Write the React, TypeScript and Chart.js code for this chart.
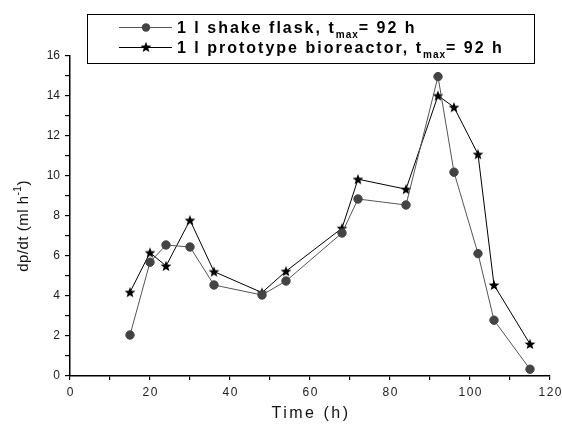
import React, { useEffect, useRef } from 'react';
import { Chart, registerables } from 'chart.js';
Chart.register(...registerables);

const times = [15, 20, 24, 30, 36, 48, 54, 68, 72, 84, 92, 96, 102, 106, 115];
const shakeFlask = [2.05, 5.69, 6.55, 6.45, 4.55, 4.05, 4.75, 7.15, 8.85, 8.55, 14.97, 10.19, 6.12, 2.79, 0.34];
const bioreactor = [4.19, 6.17, 5.5, 7.79, 5.22, 4.17, 5.24, 7.39, 9.84, 9.34, 14.02, 13.44, 11.09, 4.55, 1.6];
const xLabels = [0, 20, 40, 60, 80, 100, 120];
const seriesNames = ['1 l shake flask, t', '1 l prototype bioreactor, t'];
const seriesSuffix = '= 92 h';
const xTitle = 'Time (h)';
const yTitle = 'dp/dt (ml h';

const FONT = '"Liberation Sans", Arial, sans-serif';
const FLASK_COLOR = '#444444';
const FLASK_LINE = '#555555';

function makeStar(size: number, color: string) {
  const c = document.createElement('canvas');
  c.width = size;
  c.height = size;
  const ctx = c.getContext('2d')!;
  const cx = size / 2, cy = size / 2 + 0.5;
  const R = size / 2 - 0.3, r = R * 0.42;
  ctx.beginPath();
  for (let i = 0; i < 10; i++) {
    const rad = i % 2 === 0 ? R : r;
    const a = -Math.PI / 2 + (i * Math.PI) / 5;
    const px = cx + rad * Math.cos(a), py = cy + rad * Math.sin(a);
    if (i === 0) ctx.moveTo(px, py); else ctx.lineTo(px, py);
  }
  ctx.closePath();
  ctx.fillStyle = color;
  ctx.fill();
  return c;
}

export default function App() {
  const ref = useRef<HTMLCanvasElement>(null);
  useEffect(() => {
    document.body.style.margin = '0';
    const star = makeStar(12, '#000');
    const overlay = {
      id: 'overlay',
      afterDraw(chart: any) {
        const ctx = chart.ctx as CanvasRenderingContext2D;
        ctx.save();
        // x tick labels (letter-spaced)
        const xs = chart.scales.x;
        (ctx as any).letterSpacing = '1.5px';
        ctx.font = `12px ${FONT}`;
        ctx.fillStyle = '#222';
        ctx.textAlign = 'center';
        ctx.textBaseline = 'alphabetic';
        xLabels.forEach((v) => {
          ctx.fillText(String(v), xs.getPixelForValue(v) + 0.75, xs.top + 20);
        });
        // legend box
        ctx.strokeStyle = '#000';
        ctx.lineWidth = 1;
        ctx.strokeRect(87.5, 14.5, 447, 49);
        const rows = [27, 47];
        rows.forEach((ry, i) => {
          ctx.strokeStyle = i === 0 ? FLASK_LINE : '#000';
          ctx.beginPath();
          ctx.moveTo(119, ry + 0.5);
          ctx.lineTo(172, ry + 0.5);
          ctx.stroke();
          if (i === 0) {
            ctx.fillStyle = FLASK_COLOR;
            ctx.beginPath();
            ctx.arc(146, ry + 0.5, 4.2, 0, Math.PI * 2);
            ctx.fill();
          } else {
            ctx.drawImage(star, 146 - 6, ry - 6);
          }
          ctx.fillStyle = '#000';
          ctx.textAlign = 'left';
          (ctx as any).letterSpacing = '2px';
          ctx.font = `bold 16px ${FONT}`;
          let x = 177;
          const base = ry + 6;
          ctx.fillText(seriesNames[i], x, base);
          x += ctx.measureText(seriesNames[i]).width;
          (ctx as any).letterSpacing = '1px';
          ctx.font = `bold 10px ${FONT}`;
          ctx.fillText('max', x, base + 5);
          x += ctx.measureText('max').width;
          (ctx as any).letterSpacing = '2px';
          ctx.font = `bold 16px ${FONT}`;
          ctx.fillText(seriesSuffix, x, base);
        });
        // x title
        (ctx as any).letterSpacing = '2.5px';
        ctx.font = `16px ${FONT}`;
        ctx.textAlign = 'center';
        ctx.fillStyle = '#111';
        ctx.fillText(xTitle, (xs.left + xs.right) / 2 + 1, 418);
        // y title
        (ctx as any).letterSpacing = '0.5px';
        ctx.translate(28, 226);
        ctx.rotate(-Math.PI / 2);
        ctx.font = `15px ${FONT}`;
        const w1 = ctx.measureText(yTitle).width;
        ctx.font = `10px ${FONT}`;
        const w2 = ctx.measureText('-1').width;
        ctx.font = `15px ${FONT}`;
        const w3 = ctx.measureText(')').width;
        let sx = -(w1 + w2 + w3) / 2;
        ctx.textAlign = 'left';
        ctx.fillText(yTitle, sx, 0);
        sx += w1;
        ctx.font = `10px ${FONT}`;
        ctx.fillText('-1', sx, -7);
        sx += w2;
        ctx.font = `15px ${FONT}`;
        ctx.fillText(')', sx, 0);
        ctx.restore();
      },
    };
    const chart = new Chart(ref.current!, {
      type: 'line',
      data: {
        datasets: [
          {
            label: seriesNames[0],
            data: times.map((t, i) => ({ x: t, y: shakeFlask[i] })),
            borderColor: FLASK_LINE,
            borderWidth: 1,
            backgroundColor: FLASK_COLOR,
            pointBackgroundColor: FLASK_COLOR,
            pointBorderColor: FLASK_COLOR,
            pointRadius: 4.2,
            pointStyle: 'circle',
            tension: 0,
          },
          {
            label: seriesNames[1],
            data: times.map((t, i) => ({ x: t, y: bioreactor[i] })),
            borderColor: '#000',
            borderWidth: 1,
            backgroundColor: '#000',
            pointStyle: star as any,
            tension: 0,
          },
        ],
      },
      options: {
        animation: false,
        responsive: false,
        events: [],
        layout: { padding: { left: 0, top: 56, right: 12, bottom: 0 } },
        plugins: { legend: { display: false }, tooltip: { enabled: false } },
        scales: {
          x: {
            type: 'linear',
            min: 0,
            max: 120,
            afterFit: (s: any) => { s.height = 48; },
            grid: { display: true, drawOnChartArea: false, drawTicks: true, tickLength: 4, color: '#000', lineWidth: 1.2 },
            border: { display: true, color: '#000', width: 1.5 },
            ticks: {
              stepSize: 10,
              autoSkip: false,
              maxRotation: 0,
              padding: 7,
              color: '#222',
              font: { family: FONT, size: 12 },
              callback: () => '',
            },
          },
          y: {
            type: 'linear',
            min: 0,
            max: 16,
            afterFit: (s: any) => { s.width = 70; },
            grid: { display: true, drawOnChartArea: false, drawTicks: true, tickLength: 5, color: '#000', lineWidth: 1.2 },
            border: { display: true, color: '#000', width: 1.5 },
            ticks: {
              stepSize: 1,
              autoSkip: false,
              padding: 5,
              color: '#222',
              font: { family: FONT, size: 12 },
              callback: (v: any) => (v % 2 === 0 ? String(v) : ''),
            },
          },
        },
      },
      plugins: [overlay],
    });
    return () => chart.destroy();
  }, []);
  return (
    <div style={{ width: 562, height: 424, position: 'relative', background: '#fff' }}>
      <canvas ref={ref} width={562} height={424} style={{ width: 562, height: 424, display: 'block' }} />
    </div>
  );
}
